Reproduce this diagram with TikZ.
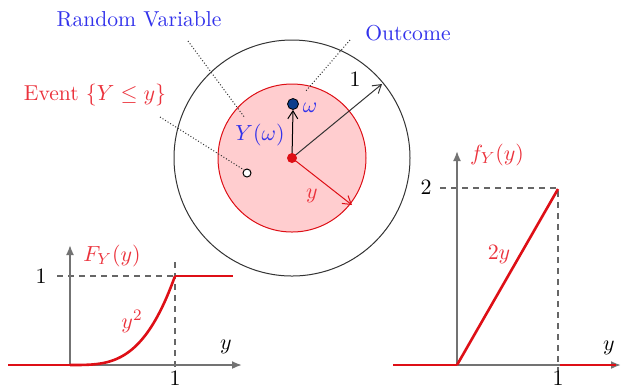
\documentclass[tikz,border=0pt]{standalone}
\usetikzlibrary{arrows.meta}
\definecolor{myred}{RGB}{222,15,22}
\definecolor{txtred}{RGB}{235,50,60}
\definecolor{myblue}{RGB}{50,50,235}
\definecolor{dotblue}{RGB}{10,60,140}
\definecolor{pinkfill}{RGB}{255,205,207}
\begin{document}
\begin{tikzpicture}[x=0.5pt,y=-0.5pt,
  lbl/.style={font=\fontsize{10.8}{13}\selectfont, inner sep=1pt},
  axisarrow/.style={draw=black!55, line width=0.9pt, -{Latex[length=5pt,width=4pt]}},
  redline/.style={draw=myred, line width=1.3pt},
  guide/.style={draw=black!60, line width=0.7pt, dash pattern=on 3pt off 2.5pt},
  leader/.style={draw=black!80, densely dotted, line width=0.5pt},
  ptr/.style={-{Straight Barb[length=4pt,width=5pt]}, line width=0.5pt}]
\useasboundingbox (0,0) rectangle (621,388);

% ---- circles ----
\coordinate (c) at (292,158);
\node[draw=black!80, line width=0.5pt, circle, minimum size=236*0.5pt, inner sep=0] (big) at (c) {};
\node[draw=myred, fill=pinkfill, line width=0.5pt, circle, minimum size=148*0.5pt, inner sep=0] (small) at (c) {};
\coordinate (one) at (382,84);
\coordinate (yend) at (352,205);
\draw[ptr, black!80] (c) -- (one);
\draw[ptr, myred] (c) -- (yend);
\node[lbl] (onelbl) at (355,79) {$1$};
\node[lbl, text=txtred] (ylbl) at (312,196) {$y$};
\node[circle, fill=dotblue, draw=black, line width=0.4pt, minimum size=5.5pt, inner sep=0] (om) at (293,104) {};
\draw[ptr, black] (c) -- (om.south);
\fill[myred] (c) circle (2.5pt);
\node[lbl, text=myblue] (omlbl) at (310,108) {$\omega$};
\node[lbl, text=myblue] (Ylbl) at (260,135) {$Y(\omega)$};
\node[circle, draw=black, fill=white, line width=0.5pt, minimum size=4pt, inner sep=0] (ev) at (247,173) {};

% labels with leaders
\node[lbl, text=myblue] (rv) at (139,19) {Random Variable};
\node[lbl, text=myblue] (oc) at (408,33) {Outcome};
\node[lbl, text=txtred] (evl) at (95,95) {Event $\{Y\leq y\}$};
\coordinate (rv1) at (188,41);
\coordinate (rv2) at (245,118);
\coordinate (oc1) at (350,40);
\coordinate (oc2) at (305,92);
\coordinate (ev1) at (160,117);
\draw[leader] (rv1) -- (rv2);
\draw[leader] (oc1) -- (oc2);
\draw[leader] (ev1) -- (ev.north west);

% ---- left plot: CDF ----
\coordinate (Lo) at (70,365);
\coordinate (Lx) at (242,365);
\coordinate (Ly) at (70,245);
\coordinate (Lneg) at (8,365);
\coordinate (Lone) at (175,276);
\coordinate (Lend) at (233,276);
\coordinate (Lyt) at (57,276);
\coordinate (Lvt) at (175,262);
\coordinate (Lvb) at (175,372);
\draw[guide] (Lyt) -- (Lone);
\draw[guide] (Lvt) -- (Lvb);
\draw[axisarrow] (Lo) -- (Lx);
\draw[axisarrow] (Lo) -- (Ly);
\draw[redline] (Lneg) -- (Lo);
\draw[redline] plot[domain=0:1, samples=50] ({70+105*\x},{365-89*pow(\x,3.3)});
\draw[redline] (Lone) -- (Lend);
\node[lbl] (L1y) at (41,276) {$1$};
\node[lbl] (L1x) at (175,378) {$1$};
\node[lbl] (Lylab) at (226,347) {$y$};
\node[lbl, text=txtred] (LF) at (112,256) {$F_Y(y)$};
\node[lbl, text=txtred] (Lsq) at (132,321) {$y^2$};

% ---- right plot: PDF ----
\coordinate (Ro) at (457,365);
\coordinate (Rx) at (621,365);
\coordinate (Ry) at (457,151);
\coordinate (Rneg) at (393,365);
\coordinate (Rtop) at (558,189);
\coordinate (Rht) at (440,188);
\coordinate (Rhe) at (558,188);
\coordinate (Rvb) at (558,371);
\coordinate (Rr1) at (560,365);
\coordinate (Rr2) at (616,365);
\draw[guide] (Rht) -- (Rhe) -- (Rvb);
\draw[axisarrow] (Ro) -- (Rx);
\draw[axisarrow] (Ro) -- (Ry);
\draw[redline] (Rneg) -- (Ro);
\draw[redline] (Ro) -- (Rtop);
\draw[redline] (Rr1) -- (Rr2);
\node[lbl] (R2) at (426,187) {$2$};
\node[lbl] (R1x) at (558,378) {$1$};
\node[lbl] (Rylab) at (609,348) {$y$};
\node[lbl, text=txtred] (Rf) at (497,155) {$f_Y(y)$};
\node[lbl, text=txtred] (R2y) at (499,255) {$2y$};
\end{tikzpicture}
\end{document}
